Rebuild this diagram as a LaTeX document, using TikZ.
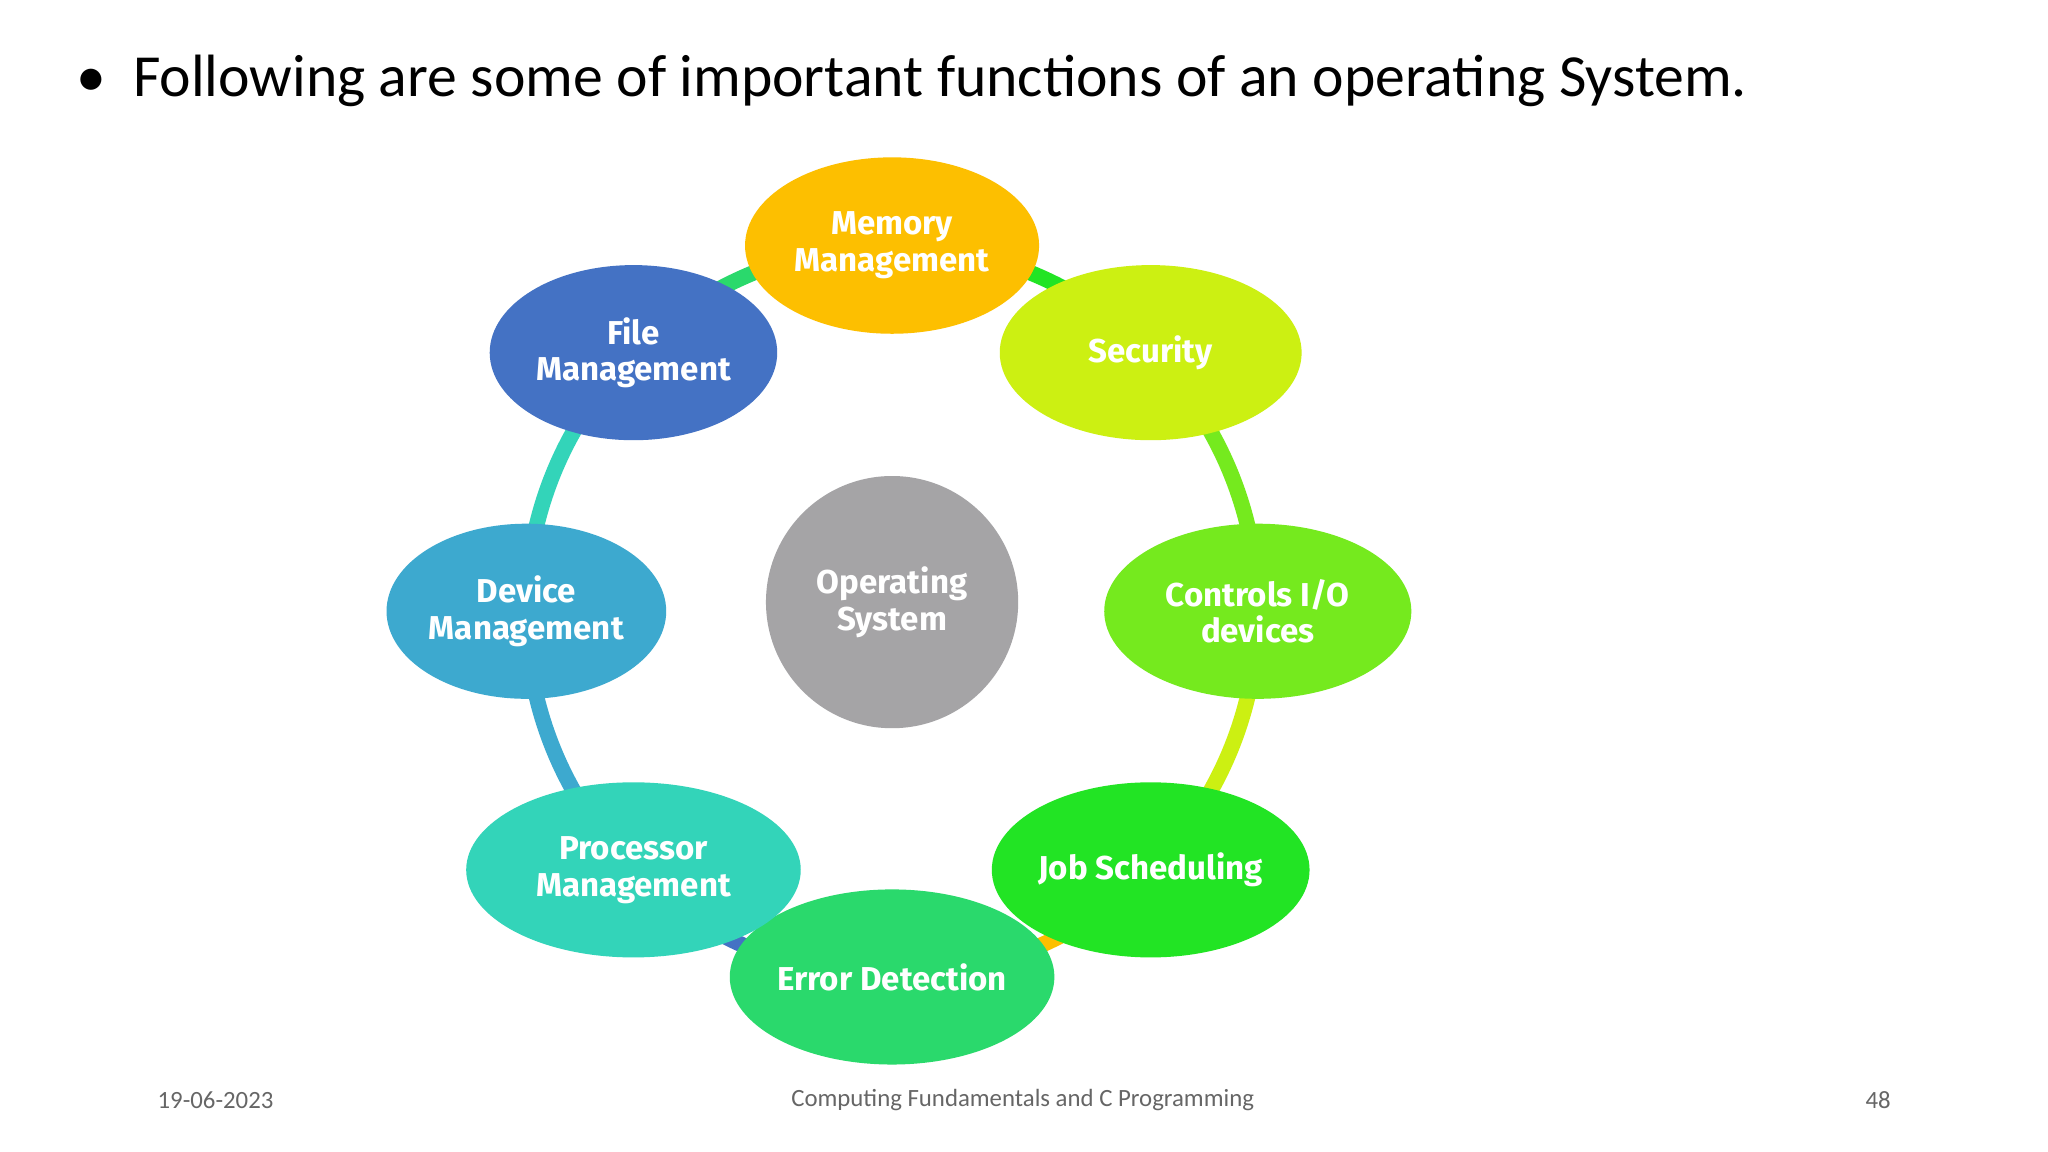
\documentclass[tikz,border=0pt]{standalone}
\usepackage{fontspec}
\setmainfont{Carlito}
\newfontfamily\nodefont{Fira Sans}
\usetikzlibrary{shapes.geometric}
\begin{document}
\begin{tikzpicture}[x=0.01cm,y=-0.01cm,
 el/.style n args={3}{ellipse,minimum width=#1cm,minimum height=#2cm,fill=#3,draw=none,text=white,align=center,font=\nodefont\bfseries\fontsize{7.2}{8}\selectfont,inner sep=0pt},
 ring/.style={line width=3.4pt}]
\useasboundingbox[fill=white] (0,0) rectangle (1568,882);
\definecolor{cMem}{HTML}{FDBF00}\definecolor{cSec}{HTML}{CCF012}
\definecolor{cCtl}{HTML}{75EA1E}\definecolor{cJob}{HTML}{22E424}
\definecolor{cErr}{HTML}{2AD96C}\definecolor{cPro}{HTML}{33D4B9}
\definecolor{cDev}{HTML}{3DA9CF}\definecolor{cFil}{HTML}{4472C4}
\definecolor{cOS}{HTML}{A5A4A6}
\foreach \a/\b/\c in {90/45/cMem,45/0/cSec,0/-45/cCtl,-45/-90/cJob,-90/-135/cErr,-135/-180/cPro,180/135/cDev,135/90/cFil}
 \draw[ring,\c] (683,468) ++(\a:280) arc[start angle=\a,end angle=\b,radius=280];
\node[el={2.25}{1.35}{cMem}] (mem) at (683,188) {Memory\\Management};
\node[el={2.31}{1.34}{cSec}] (sec) at (881,270) {Security};
\node[el={2.35}{1.34}{cCtl}] (ctl) at (963,468) {Controls I/O\\devices};
\node[el={2.34}{1.34}{cJob}] (job) at (881,666) {Job Scheduling};
\node[el={2.07}{1.34}{cErr}] (err) at (683,748) {Error Detection};
\node[el={2.56}{1.34}{cPro}] (pro) at (485,666) {Processor\\Management};
\node[el={2.14}{1.34}{cDev}] (dev) at (403,468) {Device\\Management};
\node[el={2.20}{1.34}{cFil}] (fil) at (485,270) {File\\Management};
\node[circle,fill=cOS,minimum size=1.93cm,inner sep=0pt,text=white,align=center,font=\nodefont\bfseries\fontsize{7.2}{8}\selectfont] (os) at (683,461) {Operating\\System};
\node[anchor=west,font=\fontsize{13}{15}\selectfont] (title) at (46,62) {\textbullet\ \ Following are some of important functions of an operating System.};
\begin{scope}[every node/.style={text=black!60,font=\fontsize{5.4}{6}\selectfont}]
\node (date) at (165,842) {19-06-2023};
\node (foot) at (783,842) {Computing Fundamentals and C Programming};
\node (pg) at (1438,842) {48};
\end{scope}
\end{tikzpicture}
\end{document}
